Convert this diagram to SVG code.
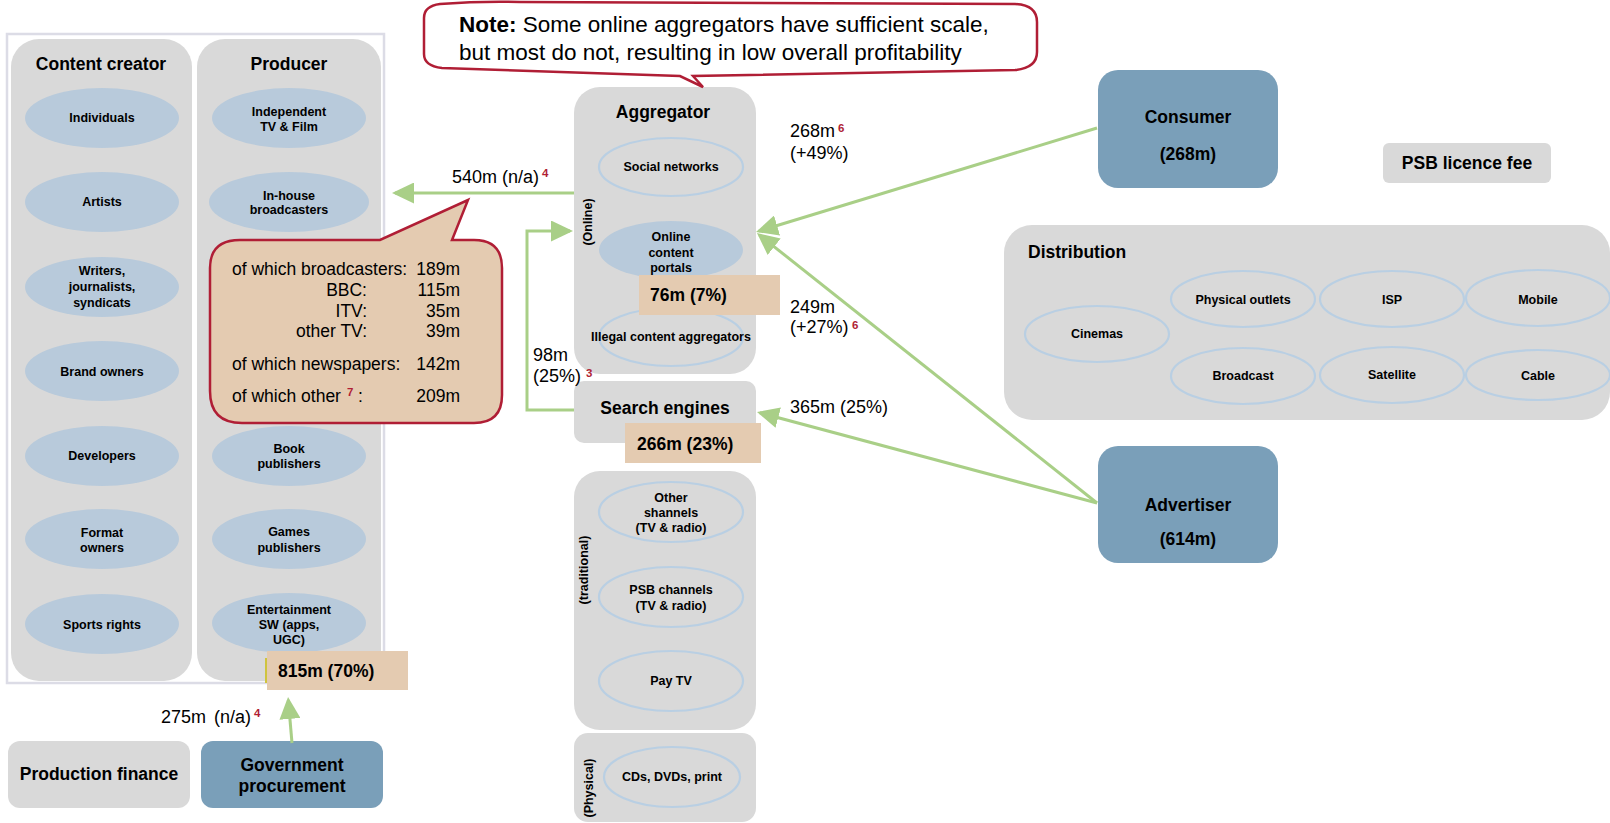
<svg xmlns="http://www.w3.org/2000/svg" width="1610" height="823" viewBox="0 0 1610 823">
<style>
text{font-family:"Liberation Sans",Arial,Helvetica,sans-serif;fill:#000}
.panel{fill:#d9d9d9}
.ell{fill:#b8cadb}
.ello{fill:none;stroke:#b9cfe3;stroke-width:2.2}
.el{font-size:12.5px;font-weight:bold;text-anchor:middle}
.title{font-size:17.5px;font-weight:bold;text-anchor:middle}
.blue{fill:#7a9fb9}
.beige{fill:#e4cbb1}
.big{font-size:17.5px;font-weight:bold}
.lbl{font-size:18px}
.bub{font-size:17.5px}
.sup{font-size:11.5px;font-weight:bold;fill:#b01e35}
.rot{font-size:12.5px;font-weight:bold;text-anchor:middle}
.con{fill:none;stroke:#a9cf87;stroke-width:3}
.callout{stroke:#b01e35;stroke-width:2.5}
</style>
<defs>
<marker id="ah" viewBox="0 0 22 21" markerWidth="22" markerHeight="21" refX="19" refY="10.5" orient="auto" markerUnits="userSpaceOnUse">
<path d="M0,0 L22,10.5 L0,21 Z" fill="#a9cf87"/>
</marker>
</defs>
<rect x="0" y="0" width="1610" height="823" fill="#fff"/>

<g id="frame">
<rect x="7" y="34" width="377" height="649" fill="#fff" stroke="#dcdce6" stroke-width="2.5"/>
</g>

<g id="content-creator">
<rect class="panel" x="11" y="39" width="181" height="642" rx="28"/>
<text class="title" x="101" y="70">Content creator</text>
<ellipse class="ell" cx="102" cy="118" rx="77" ry="30"/>
<text class="el" x="102" y="122">Individuals</text>
<ellipse class="ell" cx="102" cy="202" rx="77" ry="30"/>
<text class="el" x="102" y="206">Artists</text>
<ellipse class="ell" cx="102" cy="287" rx="77" ry="30"/>
<text class="el" x="102" y="275">Writers,</text>
<text class="el" x="102" y="291">journalists,</text>
<text class="el" x="102" y="307">syndicats</text>
<ellipse class="ell" cx="102" cy="371" rx="77" ry="30"/>
<text class="el" x="102" y="376">Brand owners</text>
<ellipse class="ell" cx="102" cy="456" rx="77" ry="30"/>
<text class="el" x="102" y="460">Developers</text>
<ellipse class="ell" cx="102" cy="539" rx="77" ry="30"/>
<text class="el" x="102" y="537">Format</text>
<text class="el" x="102" y="552">owners</text>
<ellipse class="ell" cx="102" cy="624" rx="77" ry="30"/>
<text class="el" x="102" y="629">Sports rights</text>
</g>

<g id="producer">
<rect class="panel" x="197" y="39" width="184" height="642" rx="28"/>
<text class="title" x="289" y="70">Producer</text>
<ellipse class="ell" cx="289" cy="118" rx="77" ry="30"/>
<text class="el" x="289" y="116">Independent</text>
<text class="el" x="289" y="131">TV &amp; Film</text>
<ellipse class="ell" cx="289" cy="202" rx="80" ry="30"/>
<text class="el" x="289" y="200">In-house</text>
<text class="el" x="289" y="214">broadcasters</text>
<ellipse class="ell" cx="289" cy="456" rx="77" ry="30"/>
<text class="el" x="289" y="453">Book</text>
<text class="el" x="289" y="468">publishers</text>
<ellipse class="ell" cx="289" cy="539" rx="77" ry="30"/>
<text class="el" x="289" y="536">Games</text>
<text class="el" x="289" y="552">publishers</text>
<ellipse class="ell" cx="289" cy="623" rx="77" ry="30"/>
<text class="el" x="289" y="614">Entertainment</text>
<text class="el" x="289" y="629">SW (apps,</text>
<text class="el" x="289" y="644">UGC)</text>
</g>

<g id="producer-value">
<rect x="265" y="658" width="2" height="25" fill="#cfc43e"/>
<rect class="beige" x="267" y="651" width="141" height="39"/>
<text class="big" x="278" y="677">815m (70%)</text>
</g>

<g id="production-finance">
<rect class="panel" x="8" y="741" width="182" height="67" rx="12"/>
<text class="big" x="99" y="780" text-anchor="middle">Production finance</text>
</g>

<g id="government-procurement">
<rect class="blue" x="201" y="741" width="182" height="67" rx="12"/>
<text class="big" x="292" y="771" text-anchor="middle">Government</text>
<text class="big" x="292" y="792" text-anchor="middle">procurement</text>
</g>

<g id="aggregator">
<rect class="panel" x="574" y="87" width="182" height="287" rx="26"/>
<text class="title" x="663" y="118">Aggregator</text>
<text class="rot" transform="translate(592,222) rotate(-90)">(Online)</text>
<ellipse class="ello" cx="671" cy="167" rx="72" ry="29"/>
<text class="el" x="671" y="171">Social networks</text>
<ellipse class="ell" cx="671" cy="250" rx="72" ry="29"/>
<text class="el" x="671" y="241">Online</text>
<text class="el" x="671" y="256.5">content</text>
<text class="el" x="671" y="272">portals</text>
<ellipse class="ello" cx="671" cy="337" rx="72" ry="29"/>
<text class="el" x="671" y="341">Illegal content aggregators</text>
<rect class="beige" x="639" y="275" width="141" height="40"/>
<text class="big" x="650" y="301">76m (7%)</text>
</g>

<g id="search-engines">
<rect class="panel" x="574" y="381" width="182" height="62" rx="10"/>
<text class="title" x="665" y="414">Search engines</text>
<rect class="beige" x="625" y="423" width="136" height="40"/>
<text class="big" x="637" y="450">266m (23%)</text>
</g>

<g id="traditional">
<rect class="panel" x="574" y="471" width="182" height="259" rx="26"/>
<text class="rot" transform="translate(588,570) rotate(-90)">(traditional)</text>
<ellipse class="ello" cx="671" cy="512" rx="72" ry="30"/>
<text class="el" x="671" y="502">Other</text>
<text class="el" x="671" y="517">shannels</text>
<text class="el" x="671" y="532">(TV &amp; radio)</text>
<ellipse class="ello" cx="671" cy="597" rx="72" ry="30"/>
<text class="el" x="671" y="594">PSB channels</text>
<text class="el" x="671" y="610">(TV &amp; radio)</text>
<ellipse class="ello" cx="671" cy="681" rx="72" ry="30"/>
<text class="el" x="671" y="685">Pay TV</text>
</g>

<g id="physical">
<rect class="panel" x="574" y="733" width="182" height="89" rx="14"/>
<text class="rot" transform="translate(593,788) rotate(-90)">(Physical)</text>
<ellipse class="ello" cx="672" cy="777" rx="68" ry="30"/>
<text class="el" x="672" y="781">CDs, DVDs, print</text>
</g>

<g id="consumer">
<rect class="blue" x="1098" y="70" width="180" height="118" rx="20"/>
<text class="big" x="1188" y="123" text-anchor="middle">Consumer</text>
<text class="big" x="1188" y="160" text-anchor="middle">(268m)</text>
</g>

<g id="psb-licence-fee">
<rect class="panel" x="1383" y="143" width="168" height="40" rx="6"/>
<text class="big" x="1467" y="169" text-anchor="middle">PSB licence fee</text>
</g>

<g id="distribution">
<rect class="panel" x="1004" y="225" width="606" height="195" rx="28"/>
<text class="big" x="1028" y="258">Distribution</text>
<ellipse class="ello" cx="1097" cy="334" rx="72" ry="28"/>
<text class="el" x="1097" y="338">Cinemas</text>
<ellipse class="ello" cx="1243" cy="299" rx="72" ry="28"/>
<text class="el" x="1243" y="304">Physical outlets</text>
<ellipse class="ello" cx="1392" cy="299" rx="72" ry="28"/>
<text class="el" x="1392" y="304">ISP</text>
<ellipse class="ello" cx="1538" cy="298" rx="72" ry="28"/>
<text class="el" x="1538" y="304">Mobile</text>
<ellipse class="ello" cx="1243" cy="376" rx="72" ry="28"/>
<text class="el" x="1243" y="380">Broadcast</text>
<ellipse class="ello" cx="1392" cy="375" rx="72" ry="28"/>
<text class="el" x="1392" y="379">Satellite</text>
<ellipse class="ello" cx="1538" cy="375" rx="72" ry="25"/>
<text class="el" x="1538" y="380">Cable</text>
</g>

<g id="advertiser">
<rect class="blue" x="1098" y="446" width="180" height="117" rx="20"/>
<text class="big" x="1188" y="511" text-anchor="middle">Advertiser</text>
<text class="big" x="1188" y="545" text-anchor="middle">(614m)</text>
</g>

<g id="connectors">
<path class="con" d="M574,193 L395,193" marker-end="url(#ah)"/>
<path class="con" d="M574,410 L527,410 L527,231 L570,231" marker-end="url(#ah)"/>
<path class="con" d="M1097,128 L758.9,231.1" marker-end="url(#ah)"/>
<path class="con" d="M1097,503 L759.3,234.9" marker-end="url(#ah)"/>
<path class="con" d="M1097,503 L759.9,412.8" marker-end="url(#ah)"/>
<path class="con" d="M292,743 L288.3,700" marker-end="url(#ah)"/>
</g>

<g id="labels">
<text class="lbl" x="452" y="183">540m (n/a)</text>
<text class="sup" x="542" y="177">4</text>
<text class="lbl" x="533" y="361">98m</text>
<text class="lbl" x="533" y="382">(25%)</text>
<text class="sup" x="586" y="377">3</text>
<text class="lbl" x="790" y="137">268m</text>
<text class="sup" x="838" y="132">6</text>
<text class="lbl" x="790" y="159">(+49%)</text>
<text class="lbl" x="790" y="313">249m</text>
<text class="lbl" x="790" y="333">(+27%)</text>
<text class="sup" x="852" y="329">6</text>
<text class="lbl" x="790" y="413">365m (25%)</text>
<text class="lbl" x="161" y="723">275m</text>
<text class="lbl" x="214" y="723">(n/a)</text>
<text class="sup" x="254" y="717">4</text>
</g>

<g id="note-callout">
<path class="callout" fill="#fff" d="M440,4 Q480,1 520,2 L1015,4 Q1037,5 1037,22 L1037,52 Q1037,68 1015,70 L693,76 L703,87 L680,76 L442,68 Q424,66 424,54 L424,18 Q424,6 440,4 Z"/>
<text x="459" y="32" style="font-size:22.5px"><tspan font-weight="bold">Note:</tspan> Some online aggregators have sufficient scale,</text>
<text x="459" y="60" style="font-size:22.5px">but most do not, resulting in low overall profitability</text>
</g>

<g id="breakdown-callout">
<path class="callout" fill="#e4cbb1" d="M240,240 L380,240 L468,200 L452,240 L474,240 Q502,240 502,268 L502,395 Q502,423 474,423 L242,423 Q210,423 210,391 L210,268 Q210,240 240,240 Z"/>
<text class="bub" x="232" y="275">of which broadcasters:</text>
<text class="bub" x="367" y="296" text-anchor="end">BBC:</text>
<text class="bub" x="367" y="317" text-anchor="end">ITV:</text>
<text class="bub" x="367" y="337" text-anchor="end">other TV:</text>
<text class="bub" x="232" y="370">of which newspapers:</text>
<text class="bub" x="232" y="402">of which other</text>
<text class="sup" x="347" y="396">7</text>
<text class="bub" x="358" y="402">:</text>
<text class="bub" x="460" y="275" text-anchor="end">189m</text>
<text class="bub" x="460" y="296" text-anchor="end">115m</text>
<text class="bub" x="460" y="317" text-anchor="end">35m</text>
<text class="bub" x="460" y="337" text-anchor="end">39m</text>
<text class="bub" x="460" y="370" text-anchor="end">142m</text>
<text class="bub" x="460" y="402" text-anchor="end">209m</text>
</g>
</svg>
